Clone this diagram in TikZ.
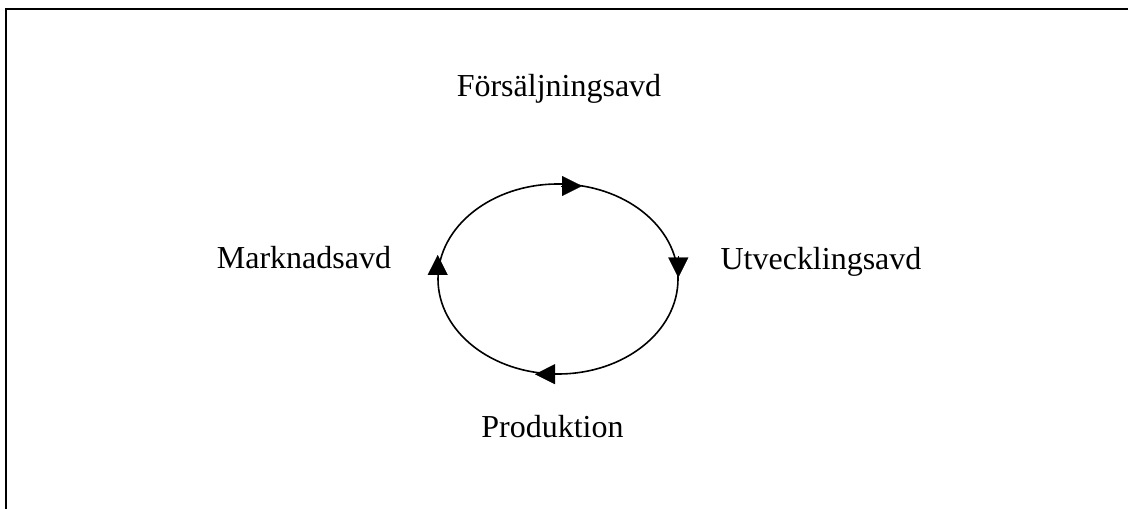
\documentclass[tikz,border=0pt]{standalone}
\usepackage{fontspec}
\setmainfont{Liberation Serif}
\usetikzlibrary{arrows.meta}
\begin{document}
\begin{tikzpicture}[x=1pt,y=1pt,
  label text/.style={anchor=base,inner sep=0pt,font=\fontsize{32}{38}\selectfont},
  cycle line/.style={line width=1.6pt},
  cycle tip/.style={line width=0.1pt,-{Triangle[width=20pt,length=20pt]}},
  frame line/.style={line width=2pt}]
  \useasboundingbox (0,0) rectangle (1128,509);
  % outer frame (only top and left edges fall inside the page)
  \draw[frame line] (6,0) -- (6,499.5) -- (1128,499.5);
  % department labels
  \node[label text] (fors) at (559,412) {Försäljningsavd};
  \node[label text] (utv)  at (821,239) {Utvecklingsavd};
  \node[label text] (prod) at (552.5,71) {Produktion};
  \node[label text] (mark) at (304,240) {Marknadsavd};
  % the cycle
  \coordinate (c) at (558,230);
  \draw[cycle line] (c) ellipse [x radius=120, y radius=95];
  % clockwise arrowheads, each ending at its tip point
  \coordinate (tipT) at (582,323);
  \coordinate (tipR) at (678.3,231.5);
  \coordinate (tipB) at (535,134.8);
  \coordinate (tipL) at (437.7,254);
  \draw[cycle tip] ([xshift=-21pt]tipT) -- (tipT);
  \draw[cycle tip] ([yshift=21pt]tipR) -- (tipR);
  \draw[cycle tip] ([xshift=21pt]tipB) -- (tipB);
  \draw[cycle tip] ([yshift=-21pt]tipL) -- (tipL);
\end{tikzpicture}
\end{document}
